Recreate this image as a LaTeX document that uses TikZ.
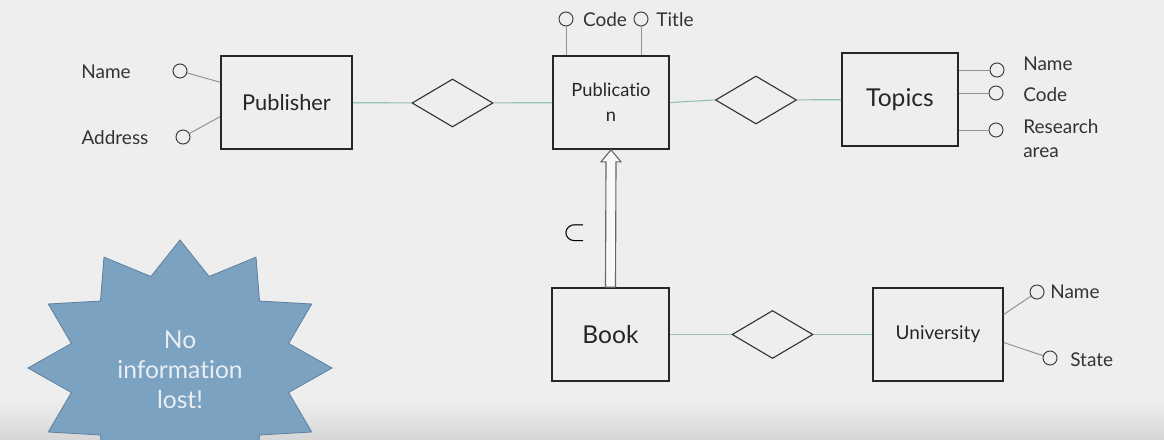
\documentclass[tikz,border=0pt]{standalone}
\usepackage{fontspec}
\setmainfont{Lato}[Ligatures=CommonOff]
\usepackage{tikz}
\usetikzlibrary{shapes.geometric}
\usetikzlibrary{calc}

\definecolor{bgcol}{RGB}{238,238,238}
\definecolor{bandcol}{RGB}{214,214,214}
\definecolor{linkcol}{RGB}{150,192,188}
\definecolor{starfill}{RGB}{124,162,194}
\definecolor{starline}{RGB}{96,130,160}
\definecolor{startext}{RGB}{232,238,244}

\begin{document}
\begin{tikzpicture}[x=0.025cm,y=-0.025cm,
  entity/.style={draw=black!85,line width=1.2pt,minimum height=2.325cm,inner sep=0,text=black!85},
  rel/.style={diamond,draw=black!80,line width=0.8pt,minimum width=2.025cm,minimum height=1.2cm,inner sep=0,aspect=1.7},
  attr/.style={circle,draw=black!75,line width=0.7pt,minimum size=0.35cm,inner sep=0},
  lbl/.style={font=\fontsize{13.5}{16}\selectfont,text=black!80,inner sep=0},
  link/.style={draw=linkcol,line width=0.8pt},
  attrline/.style={draw=gray!85,line width=0.7pt}]

\fill[bgcol] (0,0) rectangle (1164,440);
\useasboundingbox (0,0) rectangle (1164,440);
\shade[top color=bgcol,bottom color=bandcol] (0,400) rectangle (1164,440);

% star
\filldraw[fill=starfill,draw=starline,line width=0.6pt]
  plot[samples at={0,15,...,345},variable=\a]
  ({180+152*(0.87+0.13*cos(12*\a))*sin(\a)},{368-128*(0.87+0.13*cos(12*\a))*cos(\a)}) -- cycle;
\node (lost) at (180,370) [align=center,text=startext,font=\fontsize{17.5}{21.3}\selectfont] {No\\information\\lost!};

% entities
\node (publisher) at (286.5,102.5) [entity,minimum width=3.275cm,font=\fontsize{15.5}{18}\selectfont] {Publisher};
\node (publication) at (611,102.5) [entity,minimum width=2.9cm,align=center,font=\fontsize{13}{17.8}\selectfont] {Publicatio\\n};
\node (topics) at (900,99.5) [entity,minimum width=2.9cm,font=\fontsize{17.5}{21}\selectfont] {Topics};
\node (book) at (610.5,334.5) [entity,minimum width=2.925cm,font=\fontsize{17.5}{21}\selectfont] {Book};
\node (university) at (938,334.5) [entity,minimum width=3.25cm,font=\fontsize{13.5}{16}\selectfont] {University};

% relationships
\node (r1) at (452.5,103) [rel] {};
\node (r2) at (756,100) [rel] {};
\node (r3) at (772.5,334.5) [rel] {};

\draw[link] (publisher) -- (r1);
\draw[link] (r1) -- (publication);
\draw[link] (publication.east) -- (r2.west);
\draw[link] (r2) -- (topics);
\draw[link] (book) -- (r3);
\draw[link] (r3) -- (university);

% attributes
\node (pname) at (180,71) [attr] {};
\node (paddr) at (183,137) [attr] {};
\node[lbl] (pnamet) at (106,72) {Name};
\node[lbl] (paddrt) at (115,138) {Address};
\draw[attrline] (pname) -- (publisher.163);
\draw[attrline] (paddr) -- (publisher.192);

\node (pcode) at (566,19) [attr] {};
\node (ptitle) at (641,19) [attr] {};
\node[lbl] (pcodet) at (605,20) {Code};
\node[lbl] (ptitlet) at (675,20) {Title};
\draw[attrline] (pcode) -- (pcode |- publication.north);
\draw[attrline] (ptitle) -- (ptitle |- publication.north);

\node (tname) at (997,70) [attr] {};
\node (tcode) at (996,93) [attr] {};
\node (tarea) at (996,130) [attr] {};
\node[lbl,anchor=west] (tnamet) at (1023,64) {Name};
\node[lbl,anchor=west] (tcodet) at (1023,95) {Code};
\node[lbl,anchor=north west,align=left,font=\fontsize{13.5}{17.5}\selectfont] (tareat) at (1023,119) {Research\\area};
\draw[attrline] (tname) -- (tname -| topics.east);
\draw[attrline] (tcode) -- (tcode -| topics.east);
\draw[attrline] (tarea) -- (tarea -| topics.east);

\node (uname) at (1037,292) [attr] {};
\node (ustate) at (1050,358) [attr] {};
\node[lbl,anchor=west] (unamet) at (1050,292) {Name};
\node[lbl,anchor=west] (ustatet) at (1070,360) {State};
\draw[attrline] (uname) -- (university.17);
\draw[attrline] (ustate) -- (university.353);

% isa arrow
\draw[draw=black!60,fill=white!60!bgcol,line width=0.8pt]
  ($(book.north)+(-5,0)$) -- ($(publication.south)+(-5,12)$) -- ++(-5,0)
  -- (publication.south) -- ($(publication.south)+(10,12)$) -- ++(-5,0)
  -- ($(book.north)+(5,0)$) -- cycle;
\node (subs) at (575,233) [font=\fontsize{22}{24}\selectfont] {$\subset$};

\end{tikzpicture}
\end{document}
